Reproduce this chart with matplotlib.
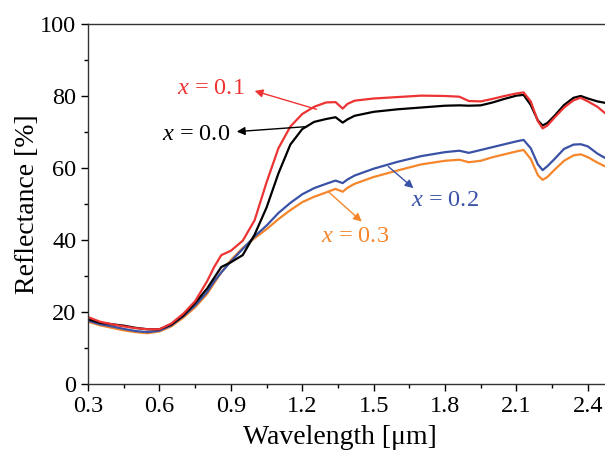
import matplotlib
matplotlib.use('Agg')
import matplotlib.pyplot as plt
from matplotlib.ticker import MultipleLocator

plt.rcParams['font.family'] = 'Liberation Serif'
plt.rcParams['mathtext.fontset'] = 'custom'
plt.rcParams['mathtext.rm'] = 'Liberation Serif'
plt.rcParams['mathtext.it'] = 'Liberation Serif:italic'

# wavelength grid (um)
wavelength = [0.30, 0.35, 0.40, 0.45, 0.50, 0.55, 0.60, 0.65, 0.70, 0.75,
              0.80, 0.83, 0.86, 0.90, 0.95, 1.00, 1.05, 1.10, 1.15, 1.20,
              1.25, 1.30, 1.34, 1.37, 1.39, 1.42, 1.50, 1.60, 1.70, 1.80,
              1.86, 1.90, 1.95, 2.00, 2.05, 2.10, 2.13, 2.16, 2.19, 2.21,
              2.23, 2.26, 2.30, 2.34, 2.37, 2.40, 2.44, 2.48]

refl_x00 = [18.0, 17.0, 16.6, 16.2, 15.6, 15.2, 15.2, 16.5, 19.0, 22.5,
            26.5, 29.5, 32.5, 33.8, 35.8, 41.5, 49.0, 58.5, 66.5, 70.8,
            72.8, 73.6, 74.1, 72.6, 73.5, 74.5, 75.6, 76.3, 76.8, 77.3,
            77.4, 77.3, 77.4, 78.2, 79.2, 80.1, 80.3, 77.5, 73.2, 71.8,
            72.5, 74.5, 77.5, 79.5, 80.0, 79.3, 78.5, 78.0]

refl_x01 = [18.6, 17.3, 16.6, 16.0, 15.5, 15.2, 15.2, 16.8, 19.5, 23.0,
            28.5, 32.5, 35.8, 37.0, 39.8, 45.5, 56.0, 65.5, 71.5, 75.0,
            77.0, 78.2, 78.3, 76.5, 77.8, 78.7, 79.3, 79.7, 80.1, 80.0,
            79.8, 78.6, 78.5, 79.2, 80.0, 80.7, 81.0, 78.5, 73.0, 71.0,
            71.8, 74.0, 76.8, 78.8, 79.5, 78.5, 77.0, 74.8]

refl_x02 = [17.6, 16.6, 16.0, 15.3, 14.7, 14.4, 14.8, 16.3, 18.8, 21.8,
            25.5, 28.5, 31.0, 34.0, 37.5, 41.0, 44.0, 47.5, 50.3, 52.7,
            54.4, 55.6, 56.5, 55.8, 56.8, 57.9, 59.8, 61.7, 63.3, 64.4,
            64.8, 64.2, 65.0, 65.8, 66.6, 67.4, 67.8, 65.5, 61.0, 59.4,
            60.5, 62.5, 65.3, 66.5, 66.6, 66.0, 64.0, 62.5]

refl_x03 = [17.3, 16.3, 15.6, 14.9, 14.4, 14.1, 14.6, 16.0, 18.4, 21.3,
            25.0, 28.0, 31.0, 34.4, 37.8, 40.5, 43.0, 45.8, 48.3, 50.5,
            52.0, 53.2, 54.2, 53.4, 54.5, 55.6, 57.5, 59.3, 61.0, 62.0,
            62.3, 61.6, 62.0, 63.0, 63.8, 64.6, 65.0, 62.5, 58.0, 56.7,
            57.5, 59.5, 62.0, 63.5, 63.8, 63.0, 61.5, 60.2]

labels = ['$x$ = 0.1', '$x$ = 0.0', '$x$ = 0.2', '$x$ = 0.3']
colors = ['#ee3333', 'black', '#3a52a6', '#f5862b']

fig = plt.figure(figsize=(6.05, 4.5), dpi=100)
ax = fig.add_axes([0.1455, 0.1467, 0.8655, 0.8])

for yv, c in zip([refl_x03, refl_x02, refl_x00, refl_x01],
                 [colors[3], colors[2], colors[1], colors[0]]):
    ax.plot(wavelength, yv, color=c, lw=1.6)

# annotations: text position, arrow tail, arrow head
text_pos = [(0.672, 82.2), (0.612, 69.2), (1.655, 51.1), (1.28, 40.9)]
arrow_tail = [(1.26, 76.3), (1.22, 71.5), (1.562, 60.4), (1.31, 53.4)]
arrow_head = [(1.0, 81.4), (0.925, 70.1), (1.667, 54.4), (1.45, 45.1)]

for lab, c, tp, at, ah in zip(labels, colors, text_pos, arrow_tail, arrow_head):
    ax.text(tp[0], tp[1], lab, color=c, fontsize=17.5, ha='left', va='center')
    ax.annotate('', xy=ah, xytext=at,
                arrowprops=dict(arrowstyle='-|>', color=c, lw=1.0,
                                mutation_scale=12, shrinkA=0, shrinkB=0))

ax.set_xlim(0.3, 2.5)
ax.set_ylim(0, 100)
ax.xaxis.set_minor_locator(MultipleLocator(0.15))
ax.yaxis.set_major_locator(MultipleLocator(20))
ax.yaxis.set_minor_locator(MultipleLocator(10))
ax.set_xticks([0.3, 0.6, 0.9, 1.2, 1.5, 1.8, 2.1, 2.4])
ax.set_xticklabels(['0.3', '0.6', '0.9', '1.2', '1.5', '1.8', '2.1', '2.4'])
ax.tick_params(which='major', direction='out', length=5, width=1, labelsize=17.5)
ax.tick_params(which='minor', direction='out', length=3, width=1)
for s in ax.spines.values():
    s.set_linewidth(1.0)
    s.set_color('#333333')

ax.set_ylabel('Reflectance [%]', fontsize=20)
ax.set_xlabel('Wavelength [μm]', fontsize=20)
ax.xaxis.set_label_coords(0.481, -0.115)
ax.yaxis.set_label_coords(-0.092, 0.5)

fig.savefig('out.png', dpi=100)
